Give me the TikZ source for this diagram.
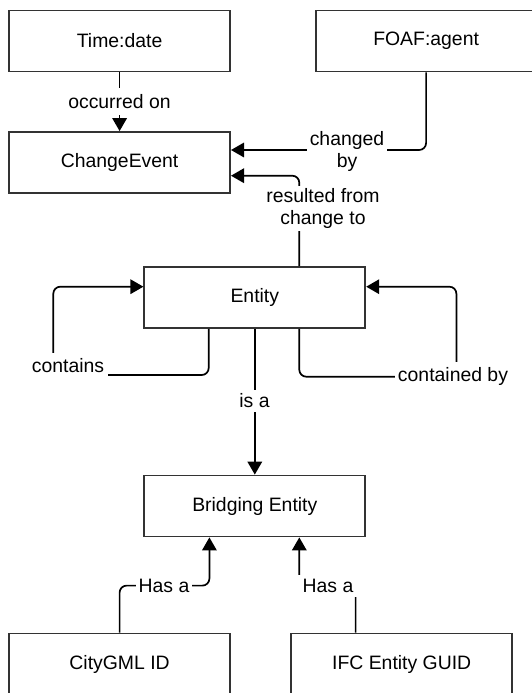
\documentclass[tikz,border=0pt]{standalone}
\usepackage{fontspec}
\setmainfont{Liberation Sans}
\usetikzlibrary{arrows.meta,calc}
\newcommand\dfont{\fontsize{19.4}{22}\selectfont}
\begin{document}
\begin{tikzpicture}[x=1pt,y=-1pt,
  box/.style={draw=black!80, line width=1.8pt, minimum width=221pt, minimum height=61pt, inner sep=0pt, font=\dfont},
  conn/.style={draw=black, line width=1.7pt, rounded corners=7pt, -{Triangle[length=13pt,width=14.5pt]}},
  lbl/.style={fill=white, inner xsep=3pt, inner ysep=2pt, font=\dfont, align=center}]
\useasboundingbox (0,0) rectangle (532,693);
\clip (0,0) rectangle (532,693);
\node[box] (time) at (119.6,41) {Time:date};
\node[box] (foaf) at (426.1,41) {FOAF:agent};
\node[box] (change) at (119.6,162.5) {ChangeEvent};
\node[box] (entity) at (254.8,297.5) {Entity};
\node[box] (bridge) at (254.8,506) {Bridging Entity};
\node[box] (city) at (119.6,664) {CityGML ID};
\node[box] (ifc) at (401.7,664) {IFC Entity GUID};

\coordinate (cL) at (53.3,375);
\coordinate (cR) at (456.4,376.7);

\draw[conn] (time) -- (change);
\draw[conn] (foaf.south) |- ([yshift=12.5pt]change.east);
\draw[conn] ([xshift=44.5pt]entity.north) |- ([yshift=-13.2pt]change.east);
\draw[conn] ([xshift=-46.1pt]entity.south) |- (cL) |- ([yshift=10.8pt]entity.west);
\draw[conn] ([xshift=44.5pt]entity.south) |- (cR) |- ([yshift=10.8pt]entity.east);
\draw[conn] (entity) -- (bridge);
\draw[conn] (city.north) -- ++(0,-47) -| ([xshift=-45.4pt]bridge.south);
\draw[conn] ([xshift=-46.1pt]ifc.north) -- ++(0,-47) -| ([xshift=44.5pt]bridge.south);

\node[lbl, minimum height=27pt] (lOcc) at (119.5,101.5) {occurred on};
\node[lbl] (lChg) at (347,151) {changed\\by};
\node[lbl] (lRes) at (323,208.5) {resulted from\\change to};
\node[lbl, minimum height=27pt, inner xsep=4pt] (lCon) at (68,366) {contains};
\node[lbl, minimum height=29pt] (lCby) at (453,376) {contained by};
\node[lbl, minimum height=22pt] (lIsa) at (254.5,401) {is a};
\node[lbl] (lHas1) at (164,585.5) {Has a};
\node[lbl, minimum width=60pt, minimum height=22pt] (lHas2) at (328,585.5) {Has a};
\end{tikzpicture}
\end{document}
